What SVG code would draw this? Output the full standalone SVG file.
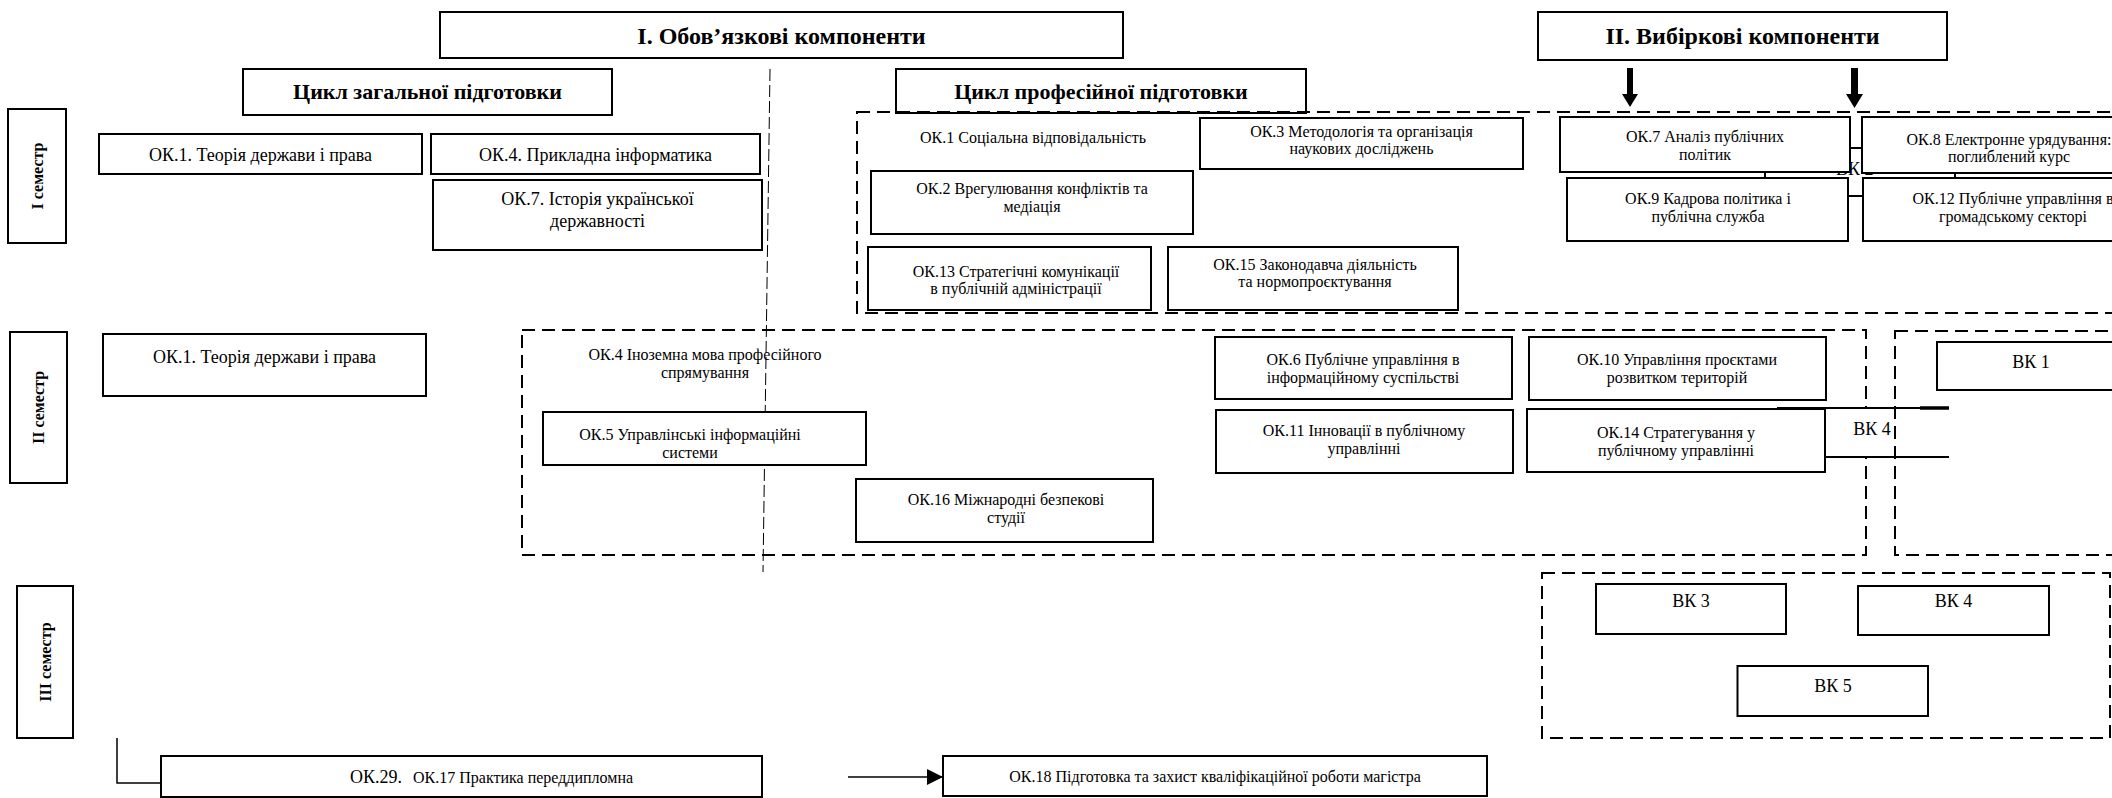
<svg xmlns="http://www.w3.org/2000/svg" width="2112" height="798" viewBox="0 0 2112 798">
<style>
.box{fill:#fff;stroke:#000;stroke-width:2}
.dash{fill:none;stroke:#000;stroke-width:2;stroke-dasharray:13 7}
.ln{fill:none;stroke:#000;stroke-width:1.5}
text{font-family:"Liberation Serif","Times New Roman",serif;fill:#000}
.t16{font-size:16px;text-anchor:middle}
.t18{font-size:18px;text-anchor:middle}
.h24{font-size:24px;font-weight:bold;text-anchor:middle}
.h22{font-size:22px;font-weight:bold;text-anchor:middle}
.sem{font-size:16px;font-weight:bold;text-anchor:middle;dominant-baseline:central}
</style>
<defs>
<marker id="ah" viewBox="0 0 10 10" refX="10" refY="5" markerWidth="17" markerHeight="16" markerUnits="userSpaceOnUse" orient="auto"><path d="M0,0 L10,5 L0,10 Z" fill="#000"/></marker>
</defs>

<!-- background structure -->
<g id="divider">
<line x1="770" y1="69" x2="763" y2="572" stroke="#000" stroke-width="1" stroke-dasharray="12 4"/>
</g>
<g id="prof-area"><rect class="dash" x="857" y="112" width="1290" height="201"/></g>
<g id="sem2-area"><rect class="dash" x="522" y="330" width="1344" height="225"/></g>
<g id="sem3-area"><rect class="dash" x="1542" y="573" width="568" height="165"/></g>

<!-- headers -->
<g id="title-ok"><rect class="box" x="440" y="12" width="683" height="46"/><text class="h24" x="781.5" y="44">І. Обов’язкові компоненти</text></g>
<g id="title-vk"><rect class="box" x="1538" y="12" width="409" height="48"/><text class="h24" x="1742.5" y="44">ІІ. Вибіркові компоненти</text></g>
<g id="cycle-general"><rect class="box" x="243" y="69" width="369" height="46"/><text class="h22" x="427.5" y="99">Цикл загальної підготовки</text></g>
<g id="cycle-prof"><rect class="box" x="896" y="69" width="410" height="44"/><text class="h22" x="1101" y="99">Цикл професійної підготовки</text></g>
<g id="prof-area-top"><line class="dash" x1="857" y1="112" x2="2147" y2="112"/></g>

<!-- semesters -->
<g id="sem1"><rect class="box" x="8" y="109" width="58" height="134"/><text class="sem" transform="translate(37,176) rotate(-90)">І семестр</text></g>
<g id="sem2"><rect class="box" x="10" y="332" width="57" height="151"/><text class="sem" transform="translate(38.5,407.5) rotate(-90)">ІІ семестр</text></g>
<g id="sem3"><rect class="box" x="17" y="586" width="56" height="152"/><text class="sem" transform="translate(45,662) rotate(-90)">ІІІ семестр</text></g>

<!-- general cycle, semester I -->
<g id="g-ok1"><rect class="box" x="99" y="134" width="323" height="40"/><text class="t18" x="260.5" y="161">ОК.1. Теорія держави і права</text></g>
<g id="g-ok4"><rect class="box" x="431" y="134" width="329" height="40"/><text class="t18" x="595.5" y="161">ОК.4. Прикладна інформатика</text></g>
<g id="g-ok7"><rect class="box" x="433" y="180" width="329" height="70"/><text class="t18" x="597.5" y="205">ОК.7. Історія української</text><text class="t18" x="597.5" y="227">державності</text></g>

<!-- professional cycle, semester I -->
<g id="p-ok1"><text class="t16" x="1033" y="143">ОК.1 Соціальна відповідальність</text></g>
<g id="p-ok2"><rect class="box" x="871" y="171" width="322" height="63"/><text class="t16" x="1032" y="194">ОК.2 Врегулювання конфліктів та</text><text class="t16" x="1032" y="212">медіація</text></g>
<g id="p-ok3"><rect class="box" x="1200" y="118" width="323" height="51"/><text class="t16" x="1361.5" y="137">ОК.3 Методологія та організація</text><text class="t16" x="1361.5" y="154">наукових досліджень</text></g>
<g id="p-ok13"><rect class="box" x="868" y="247" width="283" height="63"/><text class="t16" x="1016" y="277">ОК.13 Стратегічні комунікації</text><text class="t16" x="1016" y="294">в публічній адміністрації</text></g>
<g id="p-ok15"><rect class="box" x="1168" y="247" width="290" height="63"/><text class="t16" x="1315" y="270">ОК.15 Законодавча діяльність</text><text class="t16" x="1315" y="287">та нормопроєктування</text></g>
<g id="vk2"><rect class="box" x="1765" y="148" width="190" height="48"/><text x="1836" y="175" font-size="18">ВК 2</text></g>
<g id="p-ok7"><rect class="box" x="1560" y="117" width="290" height="55"/><text class="t16" x="1705" y="142">ОК.7 Аналіз публічних</text><text class="t16" x="1705" y="160">політик</text></g>
<g id="p-ok8"><rect class="box" x="1862" y="117" width="300" height="56"/><text class="t16" x="2009" y="145">ОК.8 Електронне урядування:</text><text class="t16" x="2009" y="162">поглиблений курс</text></g>
<g id="p-ok9"><rect class="box" x="1567" y="178" width="281" height="63"/><text class="t16" x="1708" y="204">ОК.9 Кадрова політика і</text><text class="t16" x="1708" y="222">публічна служба</text></g>
<g id="p-ok12"><rect class="box" x="1863" y="178" width="300" height="63"/><text class="t16" x="2013" y="204">ОК.12 Публічне управління в</text><text class="t16" x="2013" y="222">громадському секторі</text></g>

<!-- semester II -->
<g id="g2-ok1"><rect class="box" x="103" y="334" width="323" height="62"/><text class="t18" x="264.5" y="363">ОК.1. Теорія держави і права</text></g>
<g id="p2-ok4"><text class="t16" x="705" y="360">ОК.4 Іноземна мова професійного</text><text class="t16" x="705" y="378">спрямування</text></g>
<g id="p2-ok5"><rect class="box" x="543" y="412" width="323" height="53"/><text class="t16" x="690" y="440">ОК.5 Управлінські інформаційні</text><text class="t16" x="690" y="458">системи</text></g>
<g id="p2-ok16"><rect class="box" x="856" y="479" width="297" height="63"/><text class="t16" x="1006" y="505">ОК.16 Міжнародні безпекові</text><text class="t16" x="1006" y="523">студії</text></g>
<g id="p2-ok6"><rect class="box" x="1215" y="337" width="297" height="62"/><text class="t16" x="1363" y="365">ОК.6 Публічне управління в</text><text class="t16" x="1363" y="383">інформаційному суспільстві</text></g>
<g id="p2-ok10"><rect class="box" x="1529" y="337" width="297" height="63"/><text class="t16" x="1677" y="365">ОК.10 Управління проєктами</text><text class="t16" x="1677" y="383">розвитком територій</text></g>
<g id="vk4-sem2"><rect x="1777" y="408" width="172" height="49" fill="#fff"/><line x1="1777" y1="408" x2="1949" y2="408" stroke="#000" stroke-width="2"/><line x1="1920" y1="408" x2="1949" y2="408" stroke="#000" stroke-width="3.5"/><line x1="1825" y1="457" x2="1949" y2="457" stroke="#000" stroke-width="2"/><text class="t18" x="1872" y="435">ВК 4</text></g>
<g id="p2-ok11"><rect class="box" x="1216" y="410" width="297" height="63"/><text class="t16" x="1364" y="436">ОК.11 Інновації в публічному</text><text class="t16" x="1364" y="454">управлінні</text></g>
<g id="p2-ok14"><rect class="box" x="1527" y="409" width="298" height="63"/><text class="t16" x="1676" y="438">ОК.14 Стратегування у</text><text class="t16" x="1676" y="456">публічному управлінні</text></g>
<g id="sem2-vk-area"><rect class="dash" x="1895" y="331" width="250" height="224"/></g>
<g id="vk1"><rect class="box" x="1937" y="342" width="200" height="48"/><text class="t18" x="2031" y="368">ВК 1</text></g>

<!-- semester III -->
<g id="vk3"><rect class="box" x="1596" y="584" width="190" height="50"/><text class="t18" x="1691" y="607">ВК 3</text></g>
<g id="vk4"><rect class="box" x="1858" y="586" width="191" height="49"/><text class="t18" x="1953.5" y="607">ВК 4</text></g>
<g id="vk5"><rect class="box" x="1737.5" y="666" width="190.5" height="50"/><text class="t18" x="1833" y="692">ВК 5</text></g>

<g id="ok17"><rect class="box" x="161" y="756" width="601" height="41"/><text x="350" y="783" font-size="18">ОК.29.</text><text x="413" y="783" font-size="16">ОК.17 Практика переддипломна</text></g>
<g id="ok18"><rect class="box" x="943" y="756" width="544" height="40"/><text class="t16" x="1215" y="782">ОК.18 Підготовка та захист кваліфікаційної роботи магістра</text></g>

<!-- connectors -->
<g id="connectors">
<path class="ln" d="M117,738 V783 H161"/>
<line x1="848" y1="777" x2="943" y2="777" stroke="#000" stroke-width="1.5" marker-end="url(#ah)"/>
<g fill="#000">
<rect x="1627" y="68" width="6" height="28"/>
<path d="M1622,94 L1638,94 L1630,107 Z"/>
<rect x="1851" y="68" width="7" height="28"/>
<path d="M1846,94 L1863,94 L1854.5,108 Z"/>
</g>
</g>
</svg>
